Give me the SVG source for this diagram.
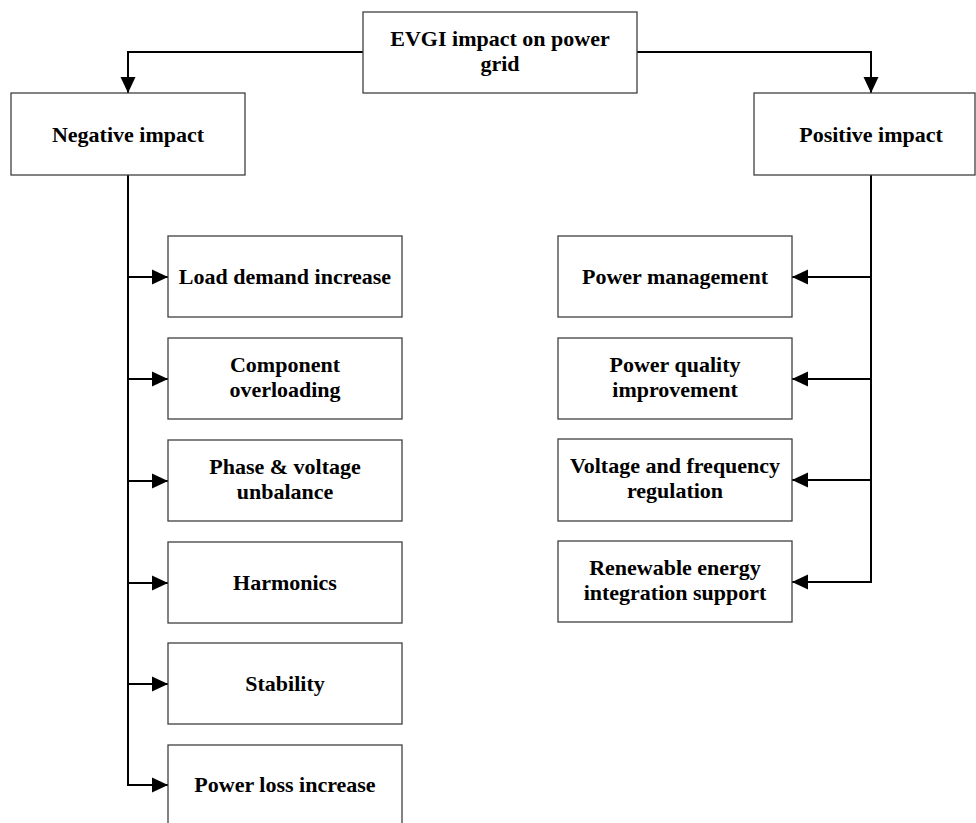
<svg xmlns="http://www.w3.org/2000/svg" width="976" height="823" viewBox="0 0 976 823">
  <style>
    .box { fill: #ffffff; stroke: #404040; stroke-width: 1.3; }
    .lbl { font-family: "Liberation Serif", "Times New Roman", serif; font-weight: bold; font-size: 22px; fill: #000000; text-anchor: middle; }
    .wire { fill: none; stroke: #000000; stroke-width: 2; }
  </style>
  <defs>
    <marker id="arrow" viewBox="0 0 16 16" refX="16" refY="8" markerWidth="16" markerHeight="16" markerUnits="userSpaceOnUse" orient="auto">
      <path d="M0,0.5 L16,8 L0,15.5 Z" fill="#000000"/>
    </marker>
  </defs>
  <rect width="976" height="823" fill="#ffffff"/>

  <g id="connectors">
    <path class="wire" d="M363,52 H128 V93" marker-end="url(#arrow)"/>
    <path class="wire" d="M637,52 H871 V93" marker-end="url(#arrow)"/>
    <path class="wire" d="M128,175 V785"/>
    <path class="wire" d="M128,277 H168" marker-end="url(#arrow)"/>
    <path class="wire" d="M128,379 H168" marker-end="url(#arrow)"/>
    <path class="wire" d="M128,481 H168" marker-end="url(#arrow)"/>
    <path class="wire" d="M128,583 H168" marker-end="url(#arrow)"/>
    <path class="wire" d="M128,684 H168" marker-end="url(#arrow)"/>
    <path class="wire" d="M127,785 H168" marker-end="url(#arrow)"/>
    <path class="wire" d="M871,175 V582"/>
    <path class="wire" d="M871,277 H792" marker-end="url(#arrow)"/>
    <path class="wire" d="M871,379 H792" marker-end="url(#arrow)"/>
    <path class="wire" d="M871,480 H792" marker-end="url(#arrow)"/>
    <path class="wire" d="M872,582 H792" marker-end="url(#arrow)"/>
  </g>

  <g id="root">
    <rect class="box" x="363" y="12" width="274" height="81"/>
    <text class="lbl" x="500" y="46">EVGI impact on power</text>
    <text class="lbl" x="500" y="71">grid</text>
  </g>

  <g id="negative">
    <rect class="box" x="11" y="93" width="234" height="82"/>
    <text class="lbl" x="128" y="142">Negative impact</text>
  </g>
  <g id="positive">
    <rect class="box" x="754" y="93" width="221" height="82"/>
    <text class="lbl" x="871" y="142">Positive impact</text>
  </g>

  <g id="load-demand">
    <rect class="box" x="168" y="236" width="234" height="81"/>
    <text class="lbl" x="285" y="284">Load demand increase</text>
  </g>
  <g id="component-overloading">
    <rect class="box" x="168" y="338" width="234" height="81"/>
    <text class="lbl" x="285" y="372">Component</text>
    <text class="lbl" x="285" y="397">overloading</text>
  </g>
  <g id="phase-voltage">
    <rect class="box" x="168" y="440" width="234" height="81"/>
    <text class="lbl" x="285" y="474">Phase &amp; voltage</text>
    <text class="lbl" x="285" y="499">unbalance</text>
  </g>
  <g id="harmonics">
    <rect class="box" x="168" y="542" width="234" height="81"/>
    <text class="lbl" x="285" y="590">Harmonics</text>
  </g>
  <g id="stability">
    <rect class="box" x="168" y="643" width="234" height="81"/>
    <text class="lbl" x="285" y="691">Stability</text>
  </g>
  <g id="power-loss">
    <rect class="box" x="168" y="745" width="234" height="84"/>
    <text class="lbl" x="285" y="792">Power loss increase</text>
  </g>

  <g id="power-management">
    <rect class="box" x="558" y="236" width="234" height="81"/>
    <text class="lbl" x="675" y="284">Power management</text>
  </g>
  <g id="power-quality">
    <rect class="box" x="558" y="338" width="234" height="81"/>
    <text class="lbl" x="675" y="372">Power quality</text>
    <text class="lbl" x="675" y="397">improvement</text>
  </g>
  <g id="voltage-frequency">
    <rect class="box" x="558" y="439" width="234" height="82"/>
    <text class="lbl" x="675" y="473">Voltage and frequency</text>
    <text class="lbl" x="675" y="498">regulation</text>
  </g>
  <g id="renewable">
    <rect class="box" x="558" y="541" width="234" height="81"/>
    <text class="lbl" x="675" y="575">Renewable energy</text>
    <text class="lbl" x="675" y="600">integration support</text>
  </g>
</svg>
